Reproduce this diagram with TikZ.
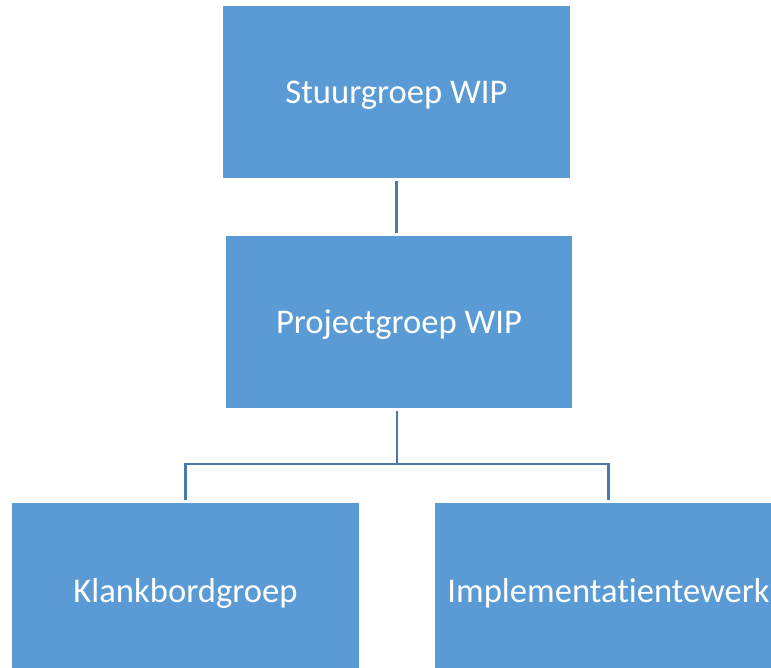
\documentclass[tikz,border=0pt]{standalone}
\usepackage{fontspec}
\setmainfont{Carlito}[Ligatures=NoCommon]
\definecolor{boxblue}{RGB}{91,155,213}
\definecolor{lijnblauw}{RGB}{72,122,170}
\tikzset{
	every picture/.style={line width=0.75pt},
	orgbox/.style={fill=boxblue,draw=none,text=white,minimum width=347pt,minimum height=172pt,inner sep=0pt,text depth=0pt,font=\fontsize{34.6}{40}\selectfont},
	verbinding/.style={draw=lijnblauw,line width=2.5pt,shorten <=3pt,shorten >=3pt}
}
\begin{document}
\begin{tikzpicture}[x=1pt,y=-1pt]
				\useasboundingbox (0,0) rectangle (771,667);
				\clip (0,0) rectangle (771,667);
				\node[orgbox] (stuur) at (396.5,92) {Stuurgroep WIP}; %bovenste
				\node[orgbox,minimum width=346pt] (project) at (399,322) {Projectgroep WIP}; %midden
				\node[orgbox,minimum height=174pt] (klank) at (185.5,590) {Klankbordgroep}; %links onder
				\node[orgbox,minimum height=174pt] (impl) at (608.5,590) {Implementatientewerk}; %rechts onder
				\coordinate (splits) at (397,464);
				\draw[verbinding] (stuur.south) -- (stuur.south |- project.north);
				\draw[verbinding,shorten >=0pt] (splits |- project.south) -- (splits);
				\draw[verbinding] (klank.north) |- (splits) -| (impl.north);
			\end{tikzpicture}
\end{document}
